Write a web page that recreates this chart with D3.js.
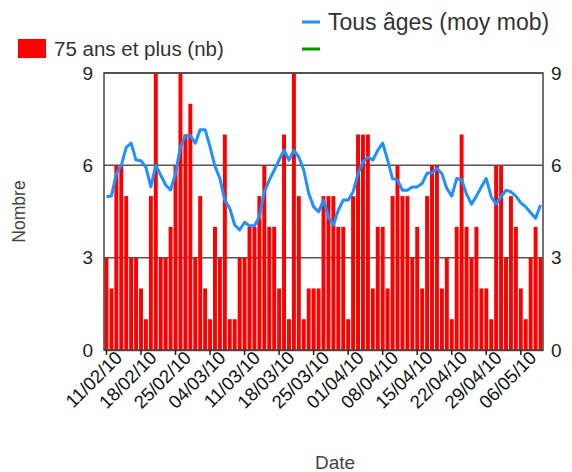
<!DOCTYPE html>
<meta charset="utf-8">
<style>
  body { margin: 0; background: #fff; }
  text { font-family: "Liberation Sans", Arial, sans-serif; }
</style>
<svg width="572" height="472"></svg>
<script src="https://cdnjs.cloudflare.com/ajax/libs/d3/7.8.5/d3.min.js"></script>
<script>

// daily counts, 11/02/10 -> 10/05/10
var startDate = "2010-02-11";
var seniors = [3,2,6,6,5,3,3,2,1,5, 9,3,3,4,6,9,7,8,3,5,
               2,1,4,3,7,1,1,3,3,4, 4,5,6,4,4,2,7,1,9,5,
               1,2,2,2,5,5,5,4,4,1, 5,7,7,7,2,4,4,2,5,6,
               5,5,3,4,2,5,6,6,2,3, 1,4,7,4,3,4,2,2,1,6,
               6,3,5,4,2,1,3,4,3];
// moving average, all ages
var allAges = [4.98,5.0,5.73,6.0,6.58,6.72,6.17,6.15,5.93,5.3,
               6.0,5.68,5.36,5.2,5.73,6.6,6.97,6.97,6.72,7.16,
               7.16,6.6,5.97,5.57,4.87,4.6,4.06,3.9,4.15,4.04,
               4.04,4.33,5.14,5.52,5.84,6.17,6.49,6.17,6.49,6.27,
               5.84,5.09,4.65,4.49,4.87,4.33,4.06,4.54,4.87,4.87,
               5.14,5.73,6.11,6.27,6.17,6.49,6.72,6.17,5.57,5.52,
               5.19,5.19,5.3,5.3,5.41,5.75,5.75,5.9,5.73,5.25,
               5.0,5.57,5.53,5.06,4.74,5.0,5.3,5.57,4.98,4.74,
               4.98,5.19,5.14,5.0,4.78,4.65,4.46,4.28,4.71];
var yTicks = [0, 3, 6, 9];

var parse = d3.timeParse("%Y-%m-%d"),
    fmt = d3.timeFormat("%d/%m/%y");
var dates = seniors.map(function(d, i) { return d3.timeDay.offset(parse(startDate), i); });
var labels = dates.map(fmt);

var margin = {top: 73, right: 29, bottom: 122, left: 104},
    width = 572 - margin.left - margin.right,
    height = 472 - margin.top - margin.bottom;

var svg = d3.select("svg"),
    g = svg.append("g").attr("transform", "translate(" + margin.left + "," + margin.top + ")");

var x = d3.scaleBand()
    .domain(labels)
    .range([0, width])
    .paddingInner(0.2)
    .paddingOuter(0.1);

var y = d3.scaleLinear()
    .domain([0, 9])
    .range([height, 0]);

// grid
g.append("g")
  .selectAll("line")
  .data(yTicks.slice(1))
  .enter().append("line")
    .attr("x1", 0).attr("x2", width)
    .attr("y1", y).attr("y2", y)
    .attr("stroke", "#555")
    .attr("stroke-width", 1.5);

// bars
g.append("g")
  .selectAll("rect")
  .data(seniors)
  .enter().append("rect")
    .attr("x", function(d, i) { return x(labels[i]); })
    .attr("y", function(d) { return y(d); })
    .attr("width", x.bandwidth())
    .attr("height", function(d) { return height - y(d); })
    .attr("fill", "#ff0000");

// moving average line
var line = d3.line()
    .x(function(d, i) { return x(labels[i]) + x.bandwidth() / 2; })
    .y(function(d) { return y(d); });

g.append("path")
    .datum(allAges)
    .attr("d", line)
    .attr("fill", "none")
    .attr("stroke", "#1e90ff")
    .attr("stroke-width", 3)
    .attr("stroke-linejoin", "round");

// frame
g.append("rect")
    .attr("width", width)
    .attr("height", height)
    .attr("fill", "none")
    .attr("stroke", "#444")
    .attr("stroke-width", 1.5);

// left / right axes
var yAxisL = g.append("g")
    .call(d3.axisLeft(y).tickValues(yTicks).tickSize(0).tickPadding(11));
var yAxisR = g.append("g")
    .attr("transform", "translate(" + width + ",0)")
    .call(d3.axisRight(y).tickValues(yTicks).tickSize(0).tickPadding(8));
[yAxisL, yAxisR].forEach(function(a) {
  a.select(".domain").remove();
  a.selectAll("text").attr("font-size", 19).attr("fill", "#222")
    .style("font-family", "'Liberation Sans', Arial, sans-serif");
});

// bottom axis, weekly ticks
var weekly = labels.filter(function(d, i) { return i % 7 === 0; });
var xAxis = g.append("g")
    .attr("transform", "translate(0," + height + ")")
    .call(d3.axisBottom(x).tickValues(weekly).tickSize(5).tickSizeOuter(0));
xAxis.select(".domain").attr("stroke", "#444").attr("stroke-width", 1.5);
xAxis.selectAll(".tick line").attr("stroke", "#222").attr("stroke-width", 1.5);
xAxis.selectAll("text")
    .attr("font-size", 18.5)
    .attr("fill", "#111")
    .style("font-family", "'Liberation Sans', Arial, sans-serif")
    .attr("text-anchor", "end")
    .attr("dx", "0.3em")
    .attr("dy", "0.55em")
    .attr("transform", "rotate(-45)");

// titles
svg.append("text")
    .attr("transform", "translate(25," + (margin.top + height / 2) + ")rotate(-90)")
    .attr("text-anchor", "middle")
    .attr("font-size", 17.5)
    .attr("fill", "#444")
    .text("Nombre");

svg.append("text")
    .attr("x", 335)
    .attr("y", 469)
    .attr("text-anchor", "middle")
    .attr("font-size", 19)
    .attr("fill", "#444")
    .text("Date");

// legend
svg.append("rect")
    .attr("x", 18).attr("y", 39)
    .attr("width", 28).attr("height", 19)
    .attr("fill", "#ff0000");
svg.append("text")
    .attr("x", 54).attr("y", 56)
    .attr("font-size", 20.5)
    .attr("fill", "#333")
    .text("75 ans et plus (nb)");

var lineLegend = [{color: "#1e90ff", label: "Tous âges (moy mob)"}, {color: "#009900", label: ""}];
var lg = svg.append("g")
  .selectAll("g")
  .data(lineLegend)
  .enter().append("g")
    .attr("transform", function(d, i) { return "translate(302," + (22 + i * 27) + ")"; });
lg.append("line")
    .attr("x2", 18)
    .attr("stroke", function(d) { return d.color; })
    .attr("stroke-width", 3);
lg.append("text")
    .attr("x", 26).attr("dy", "0.35em")
    .attr("font-size", 23)
    .attr("fill", "#333")
    .text(function(d) { return d.label; });

</script>
